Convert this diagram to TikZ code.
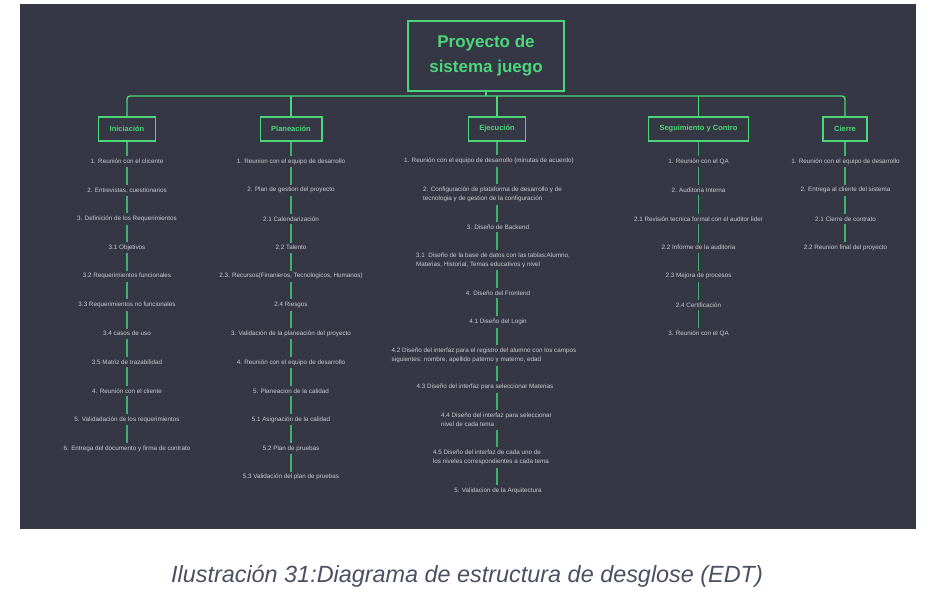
\documentclass[tikz,border=0pt]{standalone}
\usepackage{fontspec}
\setmainfont{Liberation Sans}
\usetikzlibrary{positioning}
\definecolor{edtBack}{HTML}{363745}
\definecolor{edtGreen}{HTML}{4CD67A}
\definecolor{edtLine}{HTML}{3FB06E}
\definecolor{edtText}{HTML}{CACCD2}
\definecolor{capGray}{HTML}{4A5061}

\begin{document}
\begin{tikzpicture}[x=1pt,y=-1pt,
  root/.style={draw=edtGreen,line width=2pt,fill=edtBack,text=edtGreen,align=center,minimum width=156pt,minimum height=70pt,font=\fontsize{17}{25}\selectfont\bfseries},
  phase/.style={draw=edtGreen,line width=1.4pt,fill=edtBack,text=edtGreen,minimum height=24pt,inner xsep=11pt,font=\fontsize{7.5}{9}\selectfont\bfseries},
  item/.style={text=edtText,align=left,inner sep=2.5pt,font=\fontsize{6.3}{9}\selectfont},
  bus/.style={draw=edtGreen,line width=1.4pt},
  link/.style={draw=edtLine,line width=1.4pt}
]
\useasboundingbox (0,0) rectangle (936,594);
\fill[edtBack] (20,4) rectangle (916,529);

\node[root] (root) at (486,56) {Proyecto de\\sistema juego};
\coordinate (bus) at (486,96);
\node[phase] (ini) at (127,129) {Iniciación};
\node[phase] (pla) at (291,129) {Planeación};
\node[phase] (eje) at (497,129) {Ejecución};
\node[phase] (seg) at (698.5,129) {Seguimiento y Contro};
\node[phase] (cie) at (845,129) {Cierre};

\draw[bus] (root) -- (bus);
\draw[bus,rounded corners=3pt] (ini.north) -- (ini.north |- bus) -- (cie.north |- bus) -- (cie.north);
\foreach \p in {pla,eje,seg}
  \draw[bus] (\p.north |- bus) -- (\p.north);

% Iniciacion
\foreach \t [count=\i] in {{1. Reunión  con el clicente},{2. Entrevistas, cuestionarios},
    {3. Definición de los Requerimientos},{3.1 Objetivos},{3.2 Requerimientos funcionales},
    {3.3 Requerimientos no funcionales},{3.4 casos de uso},{3.5 Matriz de trazabilidad},
    {4. Reunión con el cliente},{5. Validadación de los requerimientos},
    {6. Entrega del documento y firma de contrato}}
  \node[item] (ini\i) at (127,{161.5+28.7*(\i-1)}) {\t};

% Planeacion
\foreach \t [count=\i] in {{1. Reunion con el equipo de desarrollo},{2. Plan de gestion del proyecto},
    {2.1 Calendarización},{2.2 Talento},{2.3. Recursos(Finanieros, Tecnologicos, Humanos)},
    {2.4 Riesgos},{3. Validación de la planeación del proyecto},
    {4. Reunión con el equipo de desarrollo},{5. Planeacion de la calidad},
    {5.1 Asignación de la calidad},{5.2 Plan de pruebas},{5.3 Validación del plan de pruebas}}
  \node[item] (pla\i) at (291,{161.5+28.7*(\i-1)}) {\t};

% Ejecucion
\node[item] (eje1) at (489,161) {1. Reunión con el equipo de desarrollo (minutas de acuerdo)};
\node[item] (eje2) at (492.5,194.5) {2. Configuración de plataforma de desarrollo y de\\tecnologia y de gestion de la configuración};
\node[item] (eje3) at (498,227) {3. Diseño de Backend};
\node[item] (eje4) at (493,260) {3.1\ \ Diseño de la base de datos con las tablas:Alumno,\\Materias, Historial, Temas educativos y nivel};
\node[item] (eje5) at (498,293) {4. Diseño del Frontend};
\node[item] (eje6) at (498,322) {4.1 Diseño del Login};
\node[item] (eje7) at (484,355.5) {4.2 Diseño del interfaz para el registro del alumno con los campos\\siguientes: nombre, apellido paterno y materno, edad};
\node[item] (eje8) at (485,387) {4.3 Diseño del interfaz para seleccionar Materias};
\node[item] (eje9) at (496.5,420) {4.4 Diseño del interfaz para seleccionar\\nivel de cada tema};
\node[item] (eje10) at (491,457.5) {4.5 Diseño del interfaz de cada uno de\\los niveles correspondientes a cada tema};
\node[item] (eje11) at (498,491) {5. Validacion de la Arquitectura};

% Seguimiento y control
\foreach \t [count=\i] in {{1. Reunión con el QA},{2. Auditoria Interna},
    {2.1 Revisión tecnica formal con el auditor lider},{2.2 Informe de la auditoría},
    {2.3 Mejora de procesos},{2.4 Certificación},{3. Reunión con el QA}}
  \node[item] (seg\i) at (698.5,{161.5+28.7*(\i-1)}) {\t};

% Cierre
\foreach \t [count=\i] in {{1. Reunión con el equipo de desarrollo},{2. Entrega al cliente del sistema},
    {2.1 Cierre de contrato},{2.2 Reunion final del proyecto}}
  \node[item] (cie\i) at (845.5,{161.5+28.7*(\i-1)}) {\t};

% lineas de cada columna
\foreach \p/\n in {ini/11,pla/12,seg/7,cie/4,eje/11} {
  \draw[link] (\p.south) -- (\p1.north -| \p);
  \foreach \i [evaluate=\i as \j using int(\i-1)] in {2,...,\n}
    \draw[link] (\p\j.south -| \p) -- (\p\i.north -| \p);
}

\node[text=capGray,font=\fontsize{23.4}{28}\selectfont\itshape] (cap) at (467,576) {Ilustración 31:Diagrama de estructura de desglose (EDT)};
\end{tikzpicture}
\end{document}
